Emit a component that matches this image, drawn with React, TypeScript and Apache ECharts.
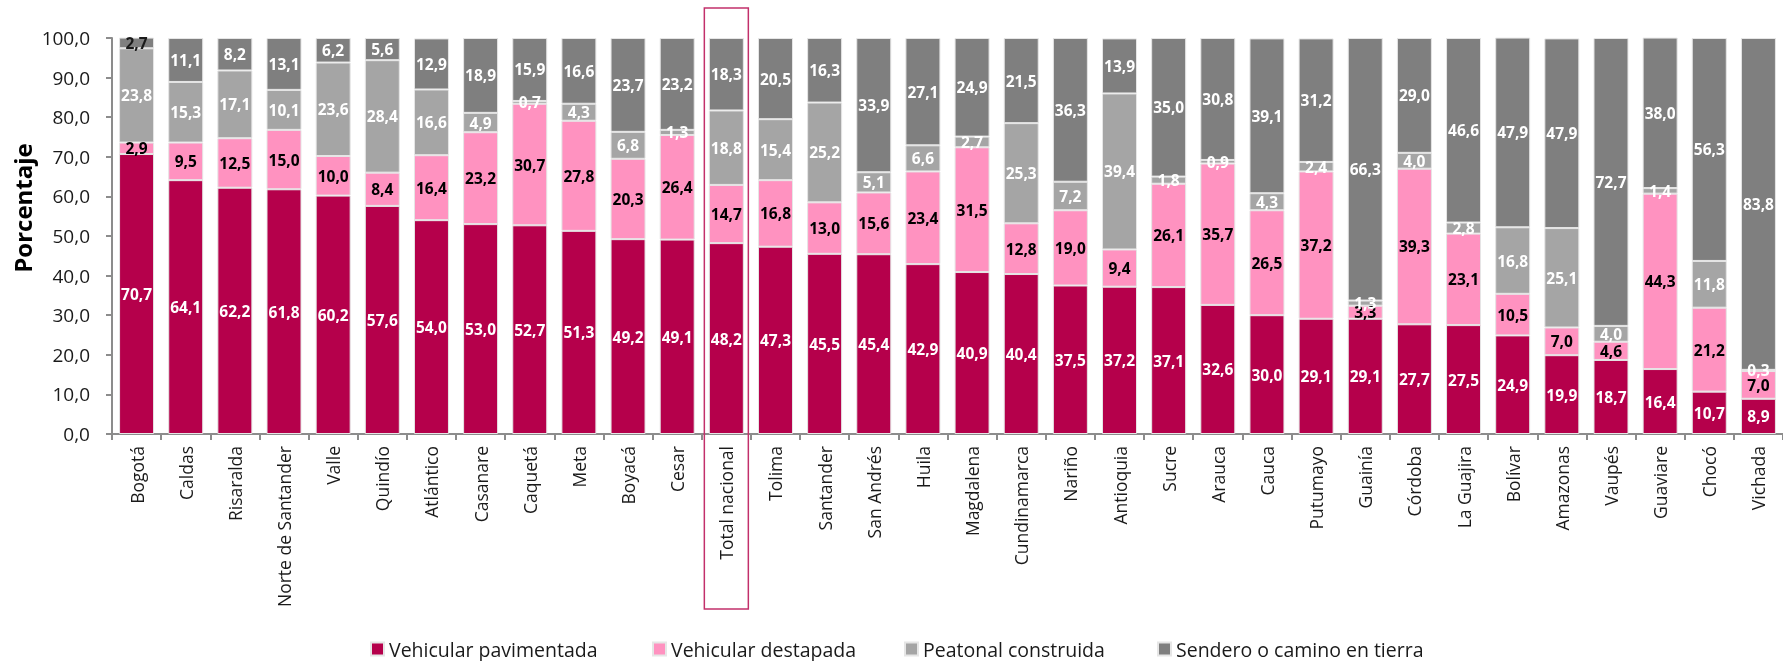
import React, { useEffect, useRef } from "react";
import * as echarts from "echarts";

const categories = [
  "Bogotá", "Caldas", "Risaralda", "Norte de Santander", "Valle", "Quindío", "Atlántico",
  "Casanare", "Caquetá", "Meta", "Boyacá", "Cesar", "Total nacional", "Tolima", "Santander",
  "San Andrés", "Huila", "Magdalena", "Cundinamarca", "Nariño", "Antioquia", "Sucre", "Arauca",
  "Cauca", "Putumayo", "Guainía", "Córdoba", "La Guajira", "Bolívar", "Amazonas", "Vaupés",
  "Guaviare", "Chocó", "Vichada",
];

const vehicularPavimentada = [
  70.7, 64.1, 62.2, 61.8, 60.2, 57.6, 54.0, 53.0, 52.7, 51.3, 49.2, 49.1, 48.2, 47.3, 45.5,
  45.4, 42.9, 40.9, 40.4, 37.5, 37.2, 37.1, 32.6, 30.0, 29.1, 29.1, 27.7, 27.5, 24.9, 19.9,
  18.7, 16.4, 10.7, 8.9,
];
const vehicularDestapada = [
  2.9, 9.5, 12.5, 15.0, 10.0, 8.4, 16.4, 23.2, 30.7, 27.8, 20.3, 26.4, 14.7, 16.8, 13.0,
  15.6, 23.4, 31.5, 12.8, 19.0, 9.4, 26.1, 35.7, 26.5, 37.2, 3.3, 39.3, 23.1, 10.5, 7.0,
  4.6, 44.3, 21.2, 7.0,
];
const peatonalConstruida = [
  23.8, 15.3, 17.1, 10.1, 23.6, 28.4, 16.6, 4.9, 0.7, 4.3, 6.8, 1.3, 18.8, 15.4, 25.2,
  5.1, 6.6, 2.7, 25.3, 7.2, 39.4, 1.8, 0.9, 4.3, 2.4, 1.3, 4.0, 2.8, 16.8, 25.1,
  4.0, 1.4, 11.8, 0.3,
];
const senderoTierra = [
  2.7, 11.1, 8.2, 13.1, 6.2, 5.6, 12.9, 18.9, 15.9, 16.6, 23.7, 23.2, 18.3, 20.5, 16.3,
  33.9, 27.1, 24.9, 21.5, 36.3, 13.9, 35.0, 30.8, 39.1, 31.2, 66.3, 29.0, 46.6, 47.9, 47.9,
  72.7, 38.0, 56.3, 83.8,
];

const seriesNames = [
  "Vehicular pavimentada",
  "Vehicular destapada",
  "Peatonal construida",
  "Sendero o camino en tierra",
];
const seriesColors = ["#B5004B", "#FF92C0", "#A5A5A5", "#7F7F7F"];
const labelColors = ["#ffffff", "#000000", "#ffffff", "#ffffff"];
const legendLefts = [365, 647, 899, 1152];
const yTicks = { min: 0, max: 100, interval: 10 };
const highlighted = "Total nacional";

const FONT = "'Open Sans', 'Noto Sans', sans-serif";
const fmt = (v: number) => v.toFixed(1).replace(".", ",");

export default function App() {
  const ref = useRef<HTMLDivElement>(null);

  useEffect(() => {
    if (!ref.current) return;
    const chart = echarts.init(ref.current, undefined, { renderer: "svg" });
    const allData = [vehicularPavimentada, vehicularDestapada, peatonalConstruida, senderoTierra];

    const series = allData.map((arr, si) => ({
      name: seriesNames[si],
      type: "bar",
      stack: "total",
      barWidth: 35,
      data: arr.map((v, i) =>
        si === 3 && i === 0 ? { value: v, label: { color: "#1a1a1a" } } : v
      ),
      itemStyle: { color: seriesColors[si], borderColor: "#e6e6e6", borderWidth: 1 },
      label: {
        show: true,
        position: "inside",
        color: labelColors[si],
        fontFamily: FONT,
        fontWeight: "bold",
        fontSize: 15.5,
        formatter: (p: any) => fmt(p.value),
      },
    }));

    const legends = seriesNames.map((name, i) => ({
      data: [name],
      left: legendLefts[i],
      top: 634,
      icon: "rect",
      itemWidth: 13,
      itemHeight: 13,
      textStyle: { fontFamily: FONT, fontSize: 19.5, color: "#1a1a1a" },
    }));

    chart.setOption({
      animation: false,
      textStyle: { fontFamily: FONT },
      grid: { left: 112, right: -3, top: 38, bottom: 227, containLabel: false },
      legend: legends,
      xAxis: {
        type: "category",
        data: categories,
        axisLine: { lineStyle: { color: "#8c8c8c", width: 2 } },
        axisTick: { show: true, length: 6, lineStyle: { color: "#8c8c8c", width: 2 } },
        axisLabel: {
          rotate: 90,
          interval: 0,
          margin: 12,
          fontFamily: FONT,
          fontSize: 17.5,
          color: "#1a1a1a",
        },
      },
      yAxis: {
        type: "value",
        min: yTicks.min,
        max: yTicks.max,
        interval: yTicks.interval,
        splitLine: { show: false },
        axisLine: { show: true, lineStyle: { color: "#8c8c8c", width: 2 } },
        axisTick: { show: true, length: 6, lineStyle: { color: "#8c8c8c", width: 2 } },
        axisLabel: {
          formatter: (v: number) => fmt(v),
          fontFamily: FONT,
          fontSize: 19,
          color: "#1a1a1a",
          margin: 22,
        },
      },
      series,
    });

    const cx = chart.convertToPixel({ xAxisIndex: 0 }, highlighted) as number;
    chart.setOption({
      graphic: [
        {
          type: "rect",
          shape: { x: cx - 22, y: 8, width: 44, height: 601 },
          style: { fill: "none", stroke: "#C2306B", lineWidth: 1.5 },
          z: 100,
        },
        {
          type: "text",
          x: 22,
          y: 208,
          rotation: Math.PI / 2,
          style: {
            text: "Porcentaje",
            fontFamily: FONT,
            fontWeight: "bold",
            fontSize: 24,
            fill: "#000000",
            align: "center",
            verticalAlign: "middle",
          },
        },
      ],
    });

    return () => chart.dispose();
  }, []);

  return (
    <div
      ref={ref}
      style={{ position: "fixed", left: 0, top: 0, width: 1783, height: 661 }}
    />
  );
}
